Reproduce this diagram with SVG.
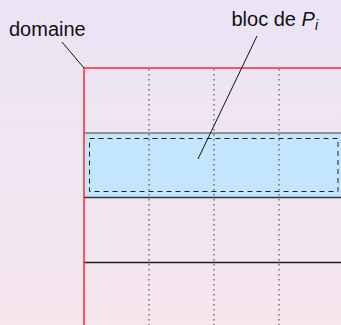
<svg xmlns="http://www.w3.org/2000/svg" width="341" height="325" viewBox="0 0 341 325">
  <defs>
    <linearGradient id="bg" x1="0" y1="0" x2="0" y2="1">
      <stop offset="0" stop-color="#ebe4f5"/>
      <stop offset="1" stop-color="#f6e6ee"/>
    </linearGradient>
    <style>
      .label { font-family: "Liberation Sans", Arial, sans-serif; font-size: 20px; fill: #111; }
      .grid { stroke: #555; stroke-width: 1.2; stroke-dasharray: 1.5 3.5; fill: none; }
      .leader { stroke: #111; stroke-width: 1; fill: none; }
      .edge { stroke: #ff2a2a; stroke-width: 1.5; fill: none; }
    </style>
  </defs>

  <rect width="341" height="325" fill="url(#bg)"/>

  <!-- block of P_i -->
  <g id="bloc">
    <rect x="84" y="133" width="258" height="64.5" fill="#c4e6fc"/>
    <line x1="84" y1="133" x2="341" y2="133" stroke="#777" stroke-width="1.5"/>
    <line x1="84" y1="197.5" x2="341" y2="197.5" stroke="#333" stroke-width="1.5"/>
    <rect x="89.5" y="138.5" width="248.5" height="53" fill="none" stroke="#222" stroke-width="1" stroke-dasharray="5 4"/>
  </g>

  <!-- dotted column separators -->
  <g id="grid">
    <line class="grid" x1="149" y1="69" x2="149" y2="325"/>
    <line class="grid" x1="214" y1="69" x2="214" y2="325"/>
    <line class="grid" x1="279" y1="69" x2="279" y2="325"/>
  </g>

  <!-- next block boundary -->
  <line x1="84" y1="262.5" x2="341" y2="262.5" stroke="#222" stroke-width="1.5"/>

  <!-- domain edges -->
  <g id="domaine">
    <line class="edge" x1="84" y1="68" x2="341" y2="68"/>
    <line class="edge" x1="84" y1="68" x2="84" y2="325"/>
  </g>

  <!-- leader lines -->
  <g id="connectors">
    <line class="leader" x1="62" y1="42" x2="84" y2="68"/>
    <line class="leader" x1="257" y1="36" x2="198" y2="159"/>
  </g>

  <g id="labels">
    <text class="label" x="9" y="36">domaine</text>
    <text class="label" x="231.5" y="26">bloc de <tspan font-style="italic">P</tspan><tspan font-style="italic" font-size="14" dy="4">i</tspan></text>
  </g>
</svg>
